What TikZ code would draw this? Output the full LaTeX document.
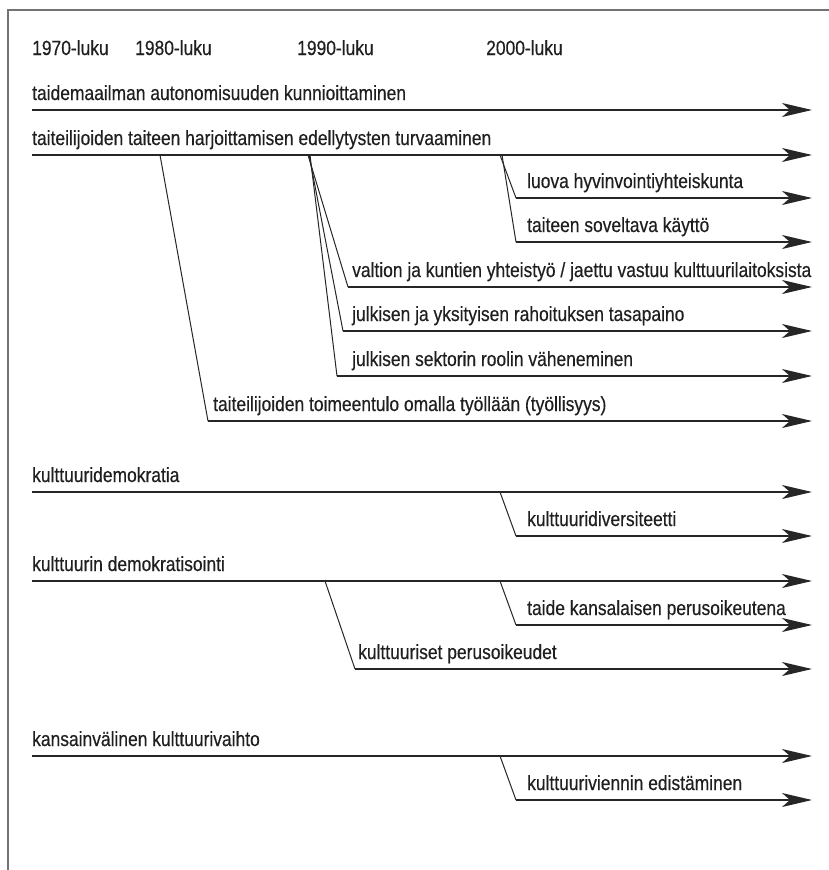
\documentclass[tikz,border=0pt]{standalone}
\usepackage{fontspec}
\setmainfont[FakeStretch=0.85,FakeBold=0.4]{Liberation Sans}
\usetikzlibrary{arrows.meta}
\begin{document}
\begin{tikzpicture}[x=1pt,y=-1pt,
  lbl/.style={anchor=base west,inner sep=0pt,font=\fontsize{20.5}{24}\selectfont,text=black!88},
  tl/.style={line width=1.4pt,draw=black!85,-{Stealth[length=30pt,width=14pt,inset=8pt]}},
  br/.style={line width=1pt,draw=black!85},
  frame/.style={line width=1.5pt,draw=black!55}]
\useasboundingbox (0,0) rectangle (828,870);
\draw[frame] (8,872) -- (8,10) -- (830,10);
% header
\node[lbl] (h70) at (32,55) {1970-luku};
\node[lbl] (h80) at (135,55) {1980-luku};
\node[lbl] (h90) at (297,55) {1990-luku};
\node[lbl] (h00) at (486,55) {2000-luku};
% main lines
\foreach \n/\y in {a/110,b/155,c/492,d/581,e/756}{
  \coordinate (\n s) at (32,\y);
  \coordinate (\n e) at (812,\y);
}
\node[lbl] (ta) at (32,100) {taidemaailman autonomisuuden kunnioittaminen};
\node[lbl] (tb) at (32,145) {taiteilijoiden taiteen harjoittamisen edellytysten turvaaminen};
\node[lbl] (tc) at (32,482) {kulttuuridemokratia};
\node[lbl] (td) at (32,571) {kulttuurin demokratisointi};
\node[lbl] (te) at (32,746) {kansainvälinen kulttuurivaihto};
\foreach \n in {a,b,c,d,e}{\draw[tl] (\n s) -- (\n e);}
% branches: name/startx/parenty/endx/childy
\foreach \n/\sx/\py/\ex/\cy in {
  b1/500/155/516/198, b2/502/155/516/242,
  b3/308/155/348/287, b4/309/155/343/331, b5/310/155/337/376,
  b6/160/155/208/421,
  c1/500/492/516/536,
  d1/500/581/516/625, d2/325/581/355/669,
  e1/500/756/516/800}{
  \coordinate (\n p) at (\sx,\py);
  \coordinate (\n k) at (\ex,\cy);
  \coordinate (\n e) at (812,\cy);
  \draw[br] (\n p) -- (\n k);
  \draw[tl] (\n k) -- (\n e);
}
\node[lbl] (t1) at (527,188) {luova hyvinvointiyhteiskunta};
\node[lbl] (t2) at (527,232) {taiteen soveltava käyttö};
\node[lbl] (t3) at (352,277) {valtion ja kuntien yhteistyö / jaettu vastuu kulttuurilaitoksista};
\node[lbl] (t4) at (352,321) {julkisen ja yksityisen rahoituksen tasapaino};
\node[lbl] (t5) at (352,366) {julkisen sektorin roolin väheneminen};
\node[lbl] (t6) at (213,411) {taiteilijoiden toimeentulo omalla työllään (työllisyys)};
\node[lbl] (t7) at (527,526) {kulttuuridiversiteetti};
\node[lbl] (t8) at (527,615) {taide kansalaisen perusoikeutena};
\node[lbl] (t9) at (358,659) {kulttuuriset perusoikeudet};
\node[lbl] (t10) at (527,790) {kulttuuriviennin edistäminen};
\end{tikzpicture}
\end{document}
